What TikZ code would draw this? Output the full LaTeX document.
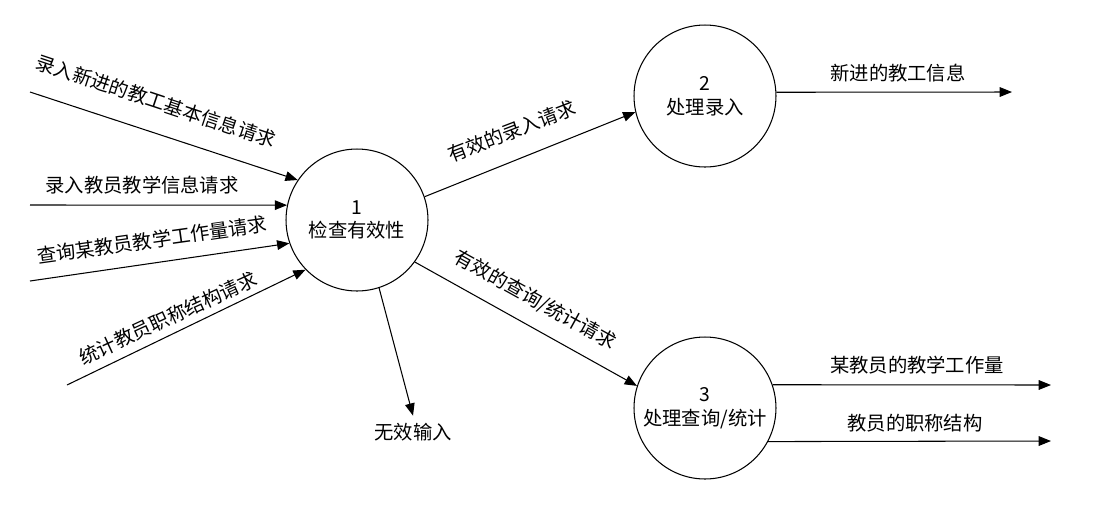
\documentclass[tikz,border=0pt]{standalone}
\usepackage{fontspec}
\newfontfamily\cjk{Noto Sans CJK SC}
\usetikzlibrary{arrows.meta}

\begin{document}
\begin{tikzpicture}[x=0.02cm,y=-0.02cm,inner sep=0pt,
  font=\cjk\fontsize{11}{13.5}\selectfont,
  proc/.style={circle,draw,line width=0.6pt,minimum size=2.84cm,align=center},
  flow/.style={line width=0.6pt,-{Triangle[length=7pt,width=5.5pt]}}]
\useasboundingbox (0,0) rectangle (1100,505);

\node[proc] (p1) at (357, 220) {1\\检查有效性};
\node[proc] (p2) at (705, 96) {2\\处理录入};
\node[proc] (p3) at (705, 408) {3\\处理查询/统计};

\coordinate (in1) at (30, 92);
\coordinate (in2) at (30, 205);
\coordinate (in3) at (30, 281);
\coordinate (in4) at (67, 385);
\coordinate (out1) at (1012, 92);
\coordinate (out2) at (1051, 385);
\coordinate (out3) at (1051, 441);
\node (bad) at (413, 432) {无效输入};

\draw[flow] (in1) -- (p1.146);
\draw[flow] (in2) -- (p1.168);
\draw[flow] (in3) -- (p1.199);
\draw[flow] (in4) -- (p1.224);
\draw[flow] (p1.19) -- (p2.193);
\draw[flow] (p1.324) -- (p3.162);
\draw[flow] (p1.288) -- ([yshift=4]bad.north);
\draw[flow] (p2.3) -- (out1);
\draw[flow] (p3.19) -- (out2);
\draw[flow] (p3.332) -- (out3);

\node[rotate=-18.5] (l1) at (156, 101) {录入新进的教工基本信息请求};
\node (l2) at (142, 185) {录入教员教学信息请求};
\node[rotate=8] (l3) at (152, 240) {查询某教员教学工作量请求};
\node[rotate=24.8] (l4) at (168, 318) {统计教员职称结构请求};
\node[rotate=21] (l5) at (512, 131) {有效的录入请求};
\node[rotate=-29] (l6) at (535, 300) {有效的查询/统计请求};
\node (l7) at (898, 73) {新进的教工信息};
\node (l8) at (917, 365) {某教员的教学工作量};
\node (l9) at (915, 423) {教员的职称结构};
\end{tikzpicture}
\end{document}
